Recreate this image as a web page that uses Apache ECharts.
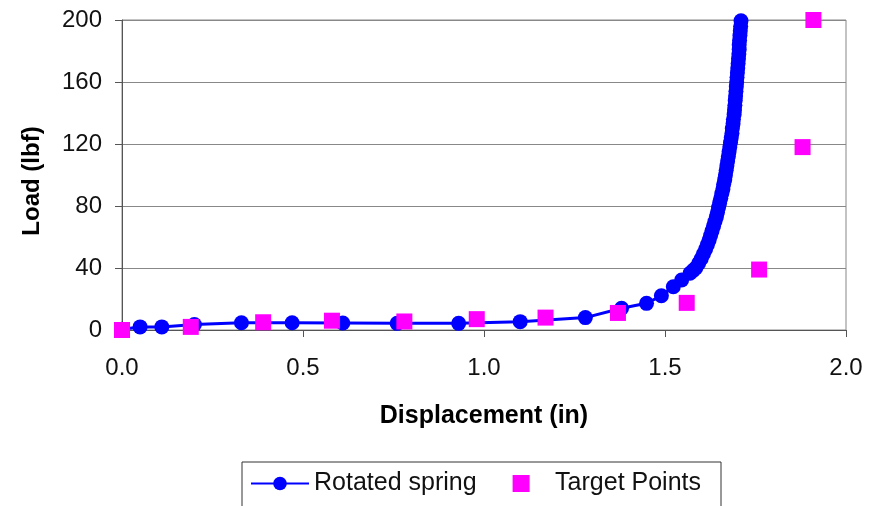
<!DOCTYPE html>
<html>
<head>
<meta charset="utf-8">
<script src="https://cdn.jsdelivr.net/npm/echarts@6/dist/echarts.min.js"></script>
<style>html,body{margin:0;padding:0;background:#fff;}#c{width:877px;height:506px;}</style>
</head>
<body>
<div id="c"></div>
<script>
// Rotated spring: displacement (in), load (lbf)
const springX = [0, 0.05, 0.11, 0.20, 0.33, 0.47, 0.61, 0.76, 0.93, 1.10, 1.28, 1.38, 1.449, 1.49, 1.523, 1.546, 1.569, 1.578, 1.585, 1.593, 1.600, 1.606, 1.612, 1.617, 1.622, 1.626, 1.630, 1.634, 1.638, 1.642, 1.645, 1.648, 1.651, 1.654, 1.657, 1.660, 1.662, 1.665, 1.667, 1.669, 1.671, 1.673, 1.675, 1.677, 1.679, 1.681, 1.683, 1.685, 1.686, 1.688, 1.689, 1.691, 1.692, 1.693, 1.694, 1.695, 1.696, 1.697, 1.698, 1.699, 1.700, 1.701, 1.702, 1.703, 1.704, 1.705, 1.705, 1.706, 1.707, 1.708, 1.709, 1.710];
const springY = [0.5, 2, 2, 3.5, 4.7, 4.7, 4.5, 4.3, 4.3, 5.4, 8, 14, 17.2, 22.1, 27.9, 32.3, 36.6, 38.5, 40, 43, 46, 49, 52, 55, 58, 61, 64, 67, 70, 73, 76, 79, 82, 85, 88, 91, 94, 97, 100, 103, 106, 109, 112, 115, 118, 121, 124, 127, 130, 133, 136, 139, 142, 145, 148, 151, 154, 157, 160, 163, 166, 169, 172, 175, 178, 181, 184, 187, 190, 193, 196, 199.5];
// Target points
const targetX = [0, 0.19, 0.39, 0.58, 0.78, 0.98, 1.17, 1.37, 1.56, 1.76, 1.88, 1.91];
const targetY = [0, 2, 5, 6, 5.5, 7, 8, 11, 17.5, 39, 118, 200];
const seriesNames = ['Rotated spring', 'Target Points'];
const xTitle = 'Displacement (in)';
const yTitle = 'Load (lbf)';

const chart = echarts.init(document.getElementById('c'), null, {renderer: 'canvas'});
const font = 'Liberation Sans, Arial, sans-serif';
chart.setOption({
  animation: false,
  backgroundColor: '#fff',
  grid: {left: 122, right: 31, top: 20, bottom: 176, show: true, borderColor: '#888', borderWidth: 1, backgroundColor: 'transparent'},
  xAxis: {
    type: 'value', min: 0, max: 2, interval: 0.5,
    name: xTitle, nameLocation: 'middle', nameGap: 74,
    nameTextStyle: {fontFamily: font, fontSize: 25, fontWeight: 'bold', color: '#000'},
    axisLine: {show: true, lineStyle: {color: '#555', width: 1}},
    axisTick: {show: true, inside: false, length: 7, lineStyle: {color: '#555'}},
    axisLabel: {fontFamily: font, fontSize: 24, color: '#111', margin: 26, formatter: v => v.toFixed(1)},
    splitLine: {show: false}
  },
  yAxis: {
    type: 'value', min: 0, max: 200, interval: 40,
    name: yTitle, nameLocation: 'middle', nameGap: 78, nameRotate: 90,
    nameTextStyle: {fontFamily: font, fontSize: 24, fontWeight: 'bold', color: '#000', padding: [0, 12, 0, 0]},
    axisLine: {show: true, lineStyle: {color: '#555', width: 1}},
    axisTick: {show: true, inside: false, length: 7, lineStyle: {color: '#555'}},
    axisLabel: {fontFamily: font, fontSize: 24, color: '#111', margin: 20},
    splitLine: {show: true, lineStyle: {color: '#888', width: 1}}
  },
  legend: {
    left: 242, top: 462,
    data: [
      {name: seriesNames[0]},
      {name: seriesNames[1], icon: 'path://M0 0H10V10H0Z'}
    ],
    itemWidth: 58, itemHeight: 17, itemGap: 36,
    borderColor: '#333', borderWidth: 1, padding: [9, 20, 30, 8],
    textStyle: {fontFamily: font, fontSize: 25, color: '#111'}
  },
  series: [
    {
      name: seriesNames[0], type: 'line',
      data: springX.map((x, i) => [x, springY[i]]),
      symbol: 'circle', symbolSize: 15,
      lineStyle: {color: '#0000FF', width: 3},
      itemStyle: {color: '#0000FF', opacity: 1},
      z: 2
    },
    {
      name: seriesNames[1], type: 'scatter',
      data: targetX.map((x, i) => [x, targetY[i]]),
      symbol: 'rect', symbolSize: 16,
      itemStyle: {color: '#FF00FF', opacity: 1},
      z: 3
    }
  ]
});
</script>
</body>
</html>
